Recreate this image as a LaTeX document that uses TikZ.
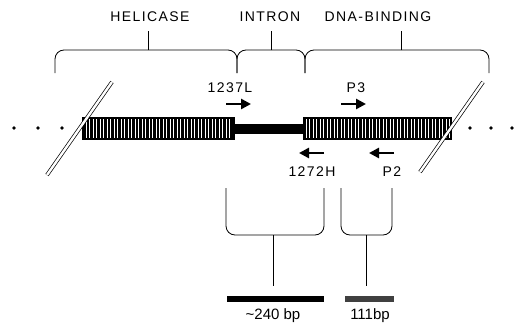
\documentclass[tikz,border=0pt]{standalone}
\usepackage{fontspec}
\newfontfamily\lblfont[LetterSpace=10]{Liberation Sans}
\newfontfamily\bpfont{Liberation Sans}
\usetikzlibrary{arrows.meta}
\tikzset{
  lbl/.style={font=\lblfont\fontsize{14}{16}\selectfont,inner sep=0pt},
  bp/.style={font=\bpfont\fontsize{15}{17}\selectfont,inner sep=0pt},
  primer/.style={line width=2.8pt,-{Triangle[length=10pt,width=10pt]}},
  brace/.style={line width=0.8pt,rounded corners=9pt},
  brk/.style={double=white,double distance=2.4pt,line width=0.7pt},
}
\begin{document}
\begin{tikzpicture}[x=1pt,y=-1pt,>=stealth]
  \useasboundingbox (0,0) rectangle (519,324);
  % domains
  \node[lbl] (hel) at (150,17) {HELICASE};
  \node[lbl] (intr) at (270,17) {INTRON};
  \node[lbl] (dnab) at (378,17) {DNA-BINDING};
  \foreach \a/\b/\s/\n in {55/237/148/hel,237/305/271/intr,305/489/401/dnab}
  {
    \draw[brace] (\a,73)--(\a,50)--(\b,50)--(\b,73);
    \coordinate (\n-s) at (\s,50);
    \draw[line width=0.8pt] (\n-s)--(\s,31);
  }
  % gene
  \fill (82,117) rectangle (235,140);
  \fill (303,117) rectangle (452,140);
  \foreach \x in {86,89.5,...,232}
    \draw[white,line width=0.5pt] (\x,119)--(\x,138);
  \foreach \x in {306,309.5,...,450}
    \draw[white,line width=0.5pt] (\x,119)--(\x,138);
  \fill (234,123.5) rectangle (304,133.5);
  \draw[brk] (112,82)--(47,175);
  \draw[brk] (483,82)--(420,172);
  \foreach \x/\n in {14/d1,38/d2,62/d3,470/d4,491/d5,512/d6}
    \fill (\x,128) circle (1.9pt) coordinate (\n);
  % primers
  \node[lbl] (p1237) at (230,88) {1237L};
  \node[lbl] (p3) at (356,88) {P3};
  \node[lbl] (p1272) at (312,172) {1272H};
  \node[lbl] (p2) at (392,172) {P2};
  \draw[primer] (226,104)--(251,104);
  \draw[primer] (341,104)--(366,104);
  \draw[primer] (324,153)--(299,153);
  \draw[primer] (394,153)--(369,153);
  % products
  \foreach \a/\b/\s/\n in {226/324/273/big,341/392/366/small}
  {
    \draw[brace] (\a,188)--(\a,235)--(\b,235)--(\b,188);
    \coordinate (\n-s) at (\s,235);
    \draw[line width=0.8pt] (\n-s)--(\s,286);
  }
  \fill (227,295.5) rectangle (324,301.5);
  \fill[black!75] (345,295.5) rectangle (394,301.5);
  \node[bp] (l240) at (273,316) {\textasciitilde240 bp};
  \node[bp] (l111) at (370,316) {111bp};
\end{tikzpicture}
\end{document}
